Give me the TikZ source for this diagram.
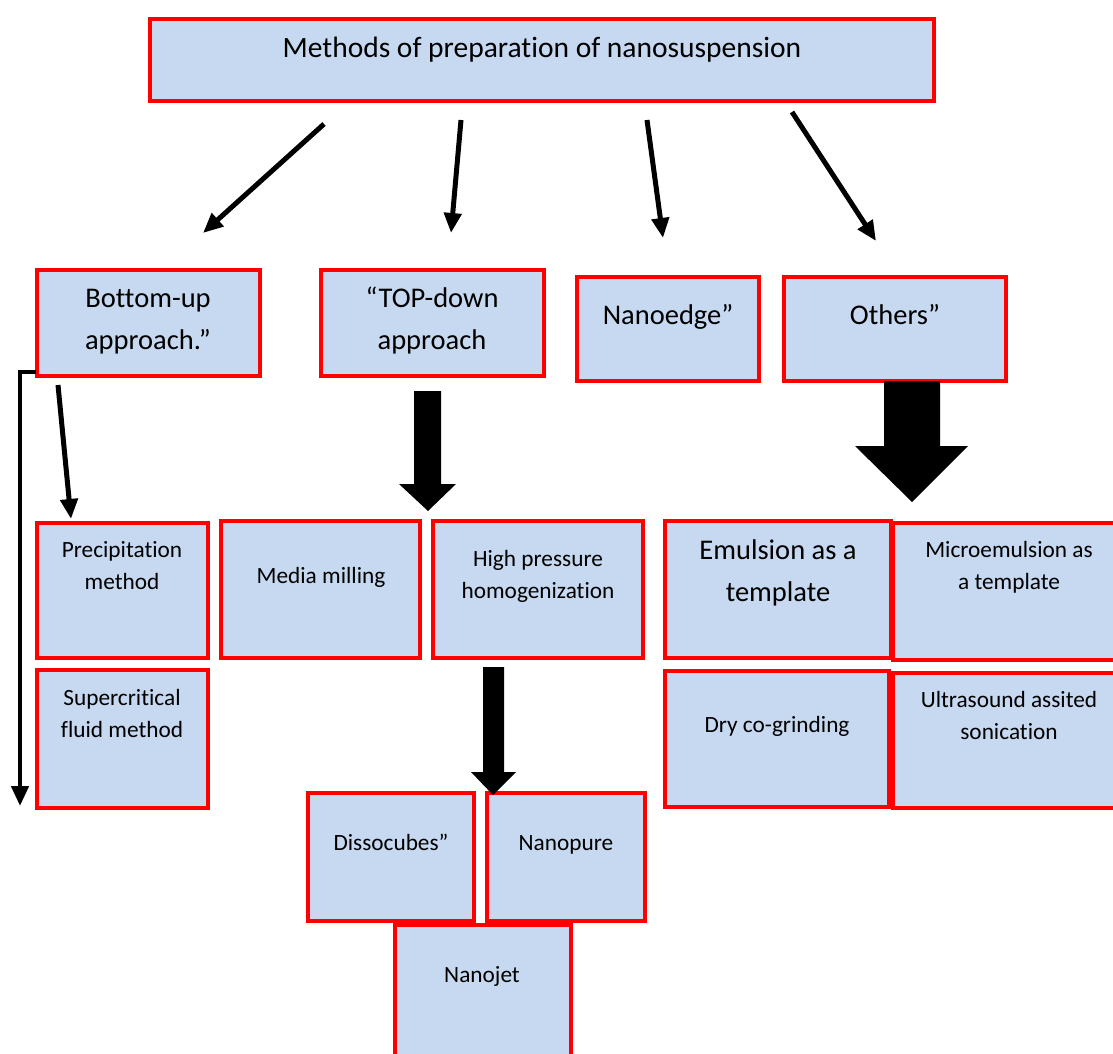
\documentclass[tikz,border=0pt]{standalone}
\usepackage{fontspec}
\setmainfont{Carlito}[Ligatures={NoCommon}]
\usetikzlibrary{arrows.meta,fit}
\definecolor{boxblue}{RGB}{198,217,240}
\begin{document}
\begin{tikzpicture}[x=1pt,y=-1pt,
  box/.style={draw=red, line width=4.5pt, fill=boxblue, rectangle, inner sep=0pt, outer sep=0pt},
  small/.style={font=\fontsize{23.3}{32}\selectfont, align=center, inner sep=0pt, anchor=base},
  large/.style={font=\fontsize{28.5}{42}\selectfont, align=center, inner sep=0pt, anchor=base},
  conn/.style={line width=5pt, -{Triangle[length=20pt,width=17pt]}},
  block/.style={fill=black, draw=none}]
\useasboundingbox (0,0) rectangle (1113,1053);
\clip (0,0) rectangle (1113,1053);
% boxes
\node[box, fit={(150,19) (934,101)}] (title) {};
\node[box, fit={(37,270) (260,376)}] (bu) {};
\node[box, fit={(321,270) (544,376)}] (td) {};
\node[box, fit={(577,277) (759,381)}] (ne) {};
\node[box, fit={(784,277) (1006,381)}] (ot) {};
\node[box, fit={(37,523) (208,658)}] (pm) {};
\node[box, fit={(221,521) (420,658)}] (mm) {};
\node[box, fit={(433,521) (643,658)}] (hp) {};
\node[box, fit={(665,521) (891,658)}] (em) {};
\node[box, fit={(893,523) (1125,660)}] (me) {};
\node[box, fit={(37,670) (208,808)}] (sc) {};
\node[box, fit={(665,671) (889,807)}] (dc) {};
\node[box, fit={(893,673) (1125,808)}] (us) {};
\node[box, fit={(308,793) (474,921)}] (ds) {};
\node[box, fit={(487,793) (645,921)}] (np) {};
\node[box, fit={(395,925) (571,1065)}] (nj) {};
% texts (base anchor = baseline of last line)
\node[large, font=\fontsize{29.5}{42}\selectfont] (titleT) at (542,57) {Methods of preparation of nanosuspension};
\node[large] (buT) at (148,349) {Bottom-up\\approach.”};
\node[large] (tdT) at (432,349) {“TOP-down\\approach};
\node[large] (neT) at (668,324) {Nanoedge”};
\node[large] (otT) at (895,324) {Others”};
\node[small] (pmT) at (122,589) {Precipitation\\method};
\node[small] (scT) at (122,737) {Supercritical\\fluid method};
\node[small] (mmT) at (321,583) {Media milling};
\node[small] (hpT) at (538,598) {High pressure\\homogenization};
\node[large] (emT) at (778,601) {Emulsion as a\\template};
\node[small] (meT) at (1009,589) {Microemulsion as\\a template};
\node[small] (dcT) at (777,732) {Dry co-grinding};
\node[small] (usT) at (1009,739) {Ultrasound assited\\sonication};
\node[small] (dsT) at (391,850) {Dissocubes”};
\node[small] (npT) at (566,850) {Nanopure};
\node[small] (njT) at (482,982) {Nanojet};
% thin arrows
\coordinate (a1s) at (324,124); \coordinate (a1e) at (203,233);
\coordinate (a2s) at (461,120); \coordinate (a2e) at (451,233);
\coordinate (a3s) at (647,120); \coordinate (a3e) at (663,238);
\coordinate (a4s) at (792,112); \coordinate (a4e) at (876,241);
\draw[conn] (a1s) -- (a1e);
\draw[conn] (a2s) -- (a2e);
\draw[conn] (a3s) -- (a3e);
\draw[conn] (a4s) -- (a4e);
\coordinate (b1s) at (58,385); \coordinate (b1e) at (71,519);
\draw[conn] (b1s) -- (b1e);
\coordinate (l1) at (36,372); \coordinate (l2) at (20,806);
\draw[conn, line width=4.5pt] (l1) -| (l2);
% block arrows
\fill[block] (414,391) -- (441,391) -- (441,484) -- (456,484) -- (428,511) -- (399,484) -- (414,484) -- cycle;
\fill[block] (884,381) -- (940,381) -- (940,446) -- (968,446) -- (912,502) -- (855,446) -- (884,446) -- cycle;
\fill[block] (483,667) -- (504,667) -- (504,772) -- (516,772) -- (493,795) -- (471,772) -- (483,772) -- cycle;
\end{tikzpicture}
\end{document}
